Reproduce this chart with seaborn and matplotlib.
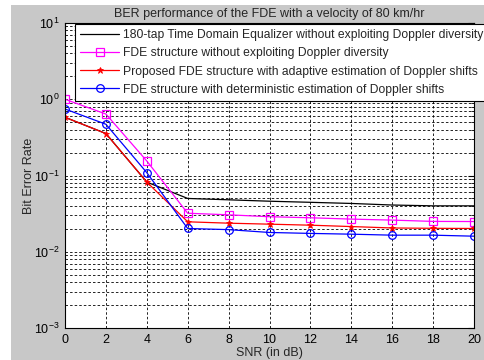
import numpy as np
import pandas as pd
import matplotlib
matplotlib.use("Agg")
import matplotlib.pyplot as plt
from matplotlib.patches import Rectangle
from matplotlib.ticker import LogLocator, FixedLocator, NullFormatter
import seaborn as sns

snr = [0, 2, 4, 6, 8, 10, 12, 14, 16, 18, 20]
ber_tde = [0.58, 0.355, 0.082, 0.050, 0.048, 0.046, 0.0445, 0.043, 0.041, 0.040, 0.040]
ber_fde_no = [1.0, 0.64, 0.155, 0.032, 0.0305, 0.0288, 0.0279, 0.0268, 0.026, 0.025, 0.0249]
ber_prop = [0.58, 0.355, 0.082, 0.0247, 0.0237, 0.023, 0.0223, 0.0214, 0.0205, 0.0203, 0.0202]
ber_det = [0.745, 0.47, 0.109, 0.0202, 0.0195, 0.0179, 0.0174, 0.0170, 0.0165, 0.0165, 0.016]

labels = [
    "180-tap Time Domain Equalizer without exploiting Doppler diversity",
    "FDE structure without exploiting Doppler diversity",
    "Proposed FDE structure with adaptive estimation of Doppler shifts",
    "FDE structure with deterministic estimation of Doppler shifts",
]
title = "BER performance of the FDE with a velocity of 80 km/hr"
xlabel = "SNR (in dB)"
ylabel = "Bit Error Rate"

sns.set_style("white")
plt.rcParams['font.family'] = ['Liberation Sans', 'DejaVu Sans']

fig = plt.figure(figsize=(4.84, 3.6), dpi=100, facecolor="white")
fig.patches.append(Rectangle((11/484, 0), 1 - 11/484, 1 - 5/360,
                             transform=fig.transFigure, facecolor="#c8c8c8",
                             edgecolor="none", zorder=-10))
ax = fig.add_axes([65/484, 1 - 328/360, 409/484, 305/360])
ax.set_facecolor("white")

series = [
    (ber_tde, "black", None, {}),
    (ber_fde_no, "#ff00ff", "s", dict(markerfacecolor="none", markersize=6, markeredgewidth=0.9)),
    (ber_prop, "red", "*", dict(markersize=5, markeredgewidth=0.6)),
    (ber_det, "blue", "o", dict(markerfacecolor="none", markersize=5.5, markeredgewidth=0.9)),
]
for (vals, col, mk, kw), lab in zip(series, labels):
    df = pd.DataFrame({"snr": snr, "ber": vals})
    sns.lineplot(data=df, x="snr", y="ber", ax=ax, color=col, marker=mk,
                 linewidth=0.9, label=lab, markeredgecolor=col, **kw)

ax.set_yscale("log")
ax.set_xlim(0, 20)
ax.set_ylim(1e-3, 10)
ax.xaxis.set_major_locator(FixedLocator(snr))
ax.yaxis.set_major_locator(LogLocator(base=10, numticks=10))
ax.yaxis.set_minor_locator(LogLocator(base=10, subs=np.arange(2, 10), numticks=20))
ax.yaxis.set_minor_formatter(NullFormatter())

grid_kw = dict(color="black", linestyle=(0, (3, 2.5)), linewidth=0.6)
ax.grid(True, which="major", axis="both", **grid_kw)
ax.grid(True, which="minor", axis="y", **grid_kw)
ax.set_axisbelow(True)

ax.tick_params(axis="both", which="both", direction="in", labelsize=9, colors="black")
ax.tick_params(axis="both", which="major", length=4, pad=4)
ax.tick_params(axis="y", which="minor", length=2)
ax.tick_params(top=True, right=True, which="both")
for s in ax.spines.values():
    s.set_color("black")
    s.set_linewidth(0.8)

ax.set_title(title, fontsize=9, pad=4)
ax.set_xlabel(xlabel, fontsize=9, labelpad=1)
ax.set_ylabel(ylabel, fontsize=9, labelpad=-1)

leg = ax.legend(loc="upper left", bbox_to_anchor=(10/409, 1.0 - 1/305), borderaxespad=0,
                fontsize=8.7, frameon=True, fancybox=False, shadow=False,
                handlelength=3.2, labelspacing=0.5, handletextpad=0.3,
                borderpad=0.45, framealpha=1)
leg.get_frame().set_edgecolor("black")
leg.get_frame().set_linewidth(0.8)

fig.savefig("out.png", dpi=100, facecolor=fig.get_facecolor())
